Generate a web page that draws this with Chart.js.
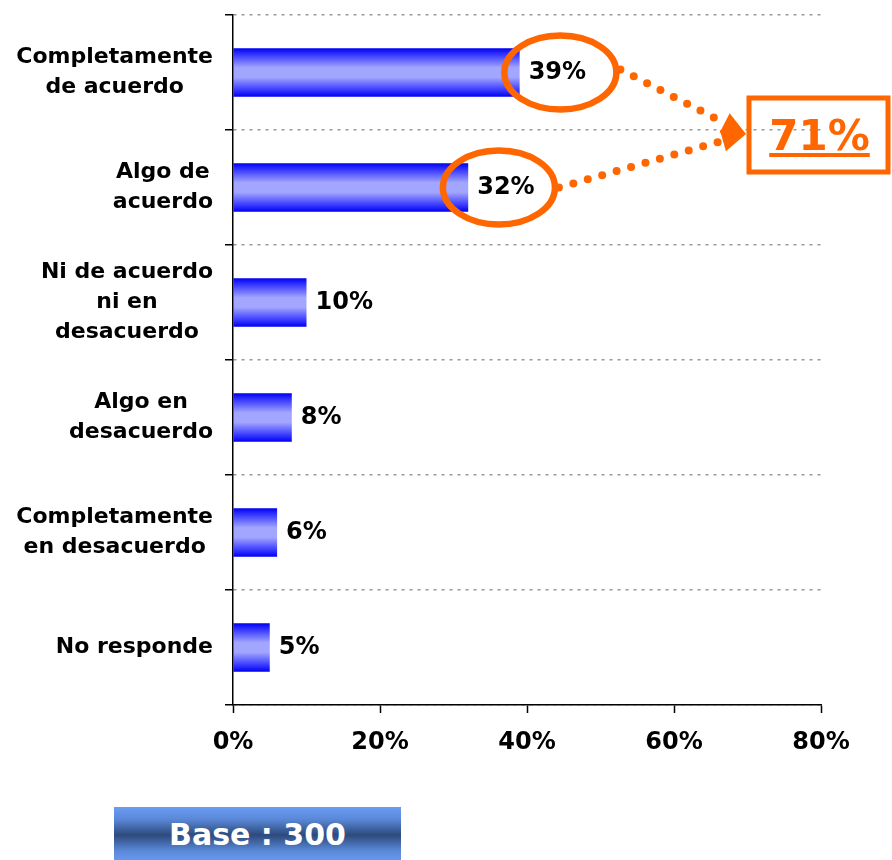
<!DOCTYPE html>
<html>
<head>
<meta charset="utf-8">
<script src="https://cdn.jsdelivr.net/npm/chart.js@4.4.0/dist/chart.umd.min.js"></script>
<style>
    html, body { margin: 0; padding: 0; background: #fff; }
    #wrap { position: relative; width: 892px; height: 860px; overflow: hidden; }
    #base {
        position: absolute; left: 114px; top: 807px; width: 287px; height: 56px;
        font: bold 30px/56px "DejaVu Sans", Verdana, sans-serif;
        text-align: center; color: #fff;
        background: linear-gradient(to bottom, #6b9cf5 0%, #5a88d8 22%, #2d4a7c 50%, #5a88d8 78%, #6b9cf5 100%);
    }
</style>
</head>
<body>
<div id="wrap">
    <canvas id="chart" width="892" height="860"></canvas>
    <div id="base">Base : 300</div>
</div>
<script>
    "use strict";

    // Data
    var categories = [
        ["Completamente", "de acuerdo"],
        ["Algo de", "acuerdo"],
        ["Ni de acuerdo", "ni en", "desacuerdo"],
        ["Algo en", "desacuerdo"],
        ["Completamente", "en desacuerdo"],
        ["No responde"]
    ];
    var values = [39, 32, 10, 8, 6, 5];
    var xTicks = [0, 20, 40, 60, 80];
    var highlighted = [0, 1]; // circled bars, summed in the orange box

    var FONT = '"DejaVu Sans", Verdana, sans-serif';
    var ORANGE = '#ff6600';
    var BAR_PCT = 0.42;
    var LINE_H = 30;

    // Bar fill: dark blue edges, light centre
    function barFill(context) {
        var chart = context.chart;
        var ys = chart.scales.y;
        if (!chart.chartArea || !ys) return '#0000ff';
        var pitch = Math.abs(ys.getPixelForValue(1) - ys.getPixelForValue(0));
        var half = pitch * BAR_PCT / 2;
        var cy = ys.getPixelForValue(context.dataIndex);
        var g = chart.ctx.createLinearGradient(0, cy - half, 0, cy + half);
        g.addColorStop(0, '#0000f0');
        g.addColorStop(0.1, '#2a2aff');
        g.addColorStop(0.4, '#a2a6ff');
        g.addColorStop(0.6, '#a2a6ff');
        g.addColorStop(0.9, '#2a2aff');
        g.addColorStop(1, '#0000f0');
        return g;
    }

    function dotted(ctx, x1, y1, x2, y2) {
        ctx.save();
        ctx.strokeStyle = ORANGE;
        ctx.lineWidth = 8;
        ctx.lineCap = 'round';
        ctx.setLineDash([0, 15]);
        ctx.beginPath();
        ctx.moveTo(x1, y1);
        ctx.lineTo(x2, y2);
        ctx.stroke();
        ctx.restore();
    }

    function arrowHead(ctx, fromX, fromY, tipX, tipY) {
        var dx = tipX - fromX, dy = tipY - fromY;
        var len = Math.sqrt(dx * dx + dy * dy);
        dx /= len; dy /= len;
        var bx = tipX - dx * 24, by = tipY - dy * 24;
        ctx.beginPath();
        ctx.moveTo(tipX, tipY);
        ctx.lineTo(bx - dy * 11, by + dx * 11);
        ctx.lineTo(bx + dy * 11, by - dx * 11);
        ctx.closePath();
        ctx.fill();
    }

    // Labels and annotations
    var customDraw = {
        id: 'customDraw',
        afterDatasetsDraw: function (chart) {
            var ctx = chart.ctx;
            var area = chart.chartArea;
            var ys = chart.scales.y;
            var bars = chart.getDatasetMeta(0).data;

            ctx.save();
            ctx.font = 'bold 22px ' + FONT;
            ctx.fillStyle = '#000';
            ctx.textBaseline = 'middle';

            // category labels: block right aligned, lines centred
            ctx.textAlign = 'center';
            categories.forEach(function (lines, i) {
                var cy = ys.getPixelForValue(i);
                var w = Math.max.apply(null, lines.map(function (l) { return ctx.measureText(l).width; }));
                var cx = area.left - 20 - w / 2;
                lines.forEach(function (l, j) {
                    ctx.fillText(l, cx, cy + (j - (lines.length - 1) / 2) * LINE_H);
                });
            });

            // value labels
            var centres = [];
            ctx.font = 'bold 24px ' + FONT;
            ctx.textAlign = 'left';
            bars.forEach(function (bar, i) {
                var txt = values[i] + '%';
                var x = bar.x + 9;
                ctx.fillText(txt, x, bar.y);
                centres.push({ x: x + ctx.measureText(txt).width / 2, y: bar.y });
            });

            // circles round highlighted values
            var rx = 56, ry = 37;
            var shift = [3, -7];
            ctx.strokeStyle = ORANGE;
            ctx.lineWidth = 6.5;
            highlighted.forEach(function (i, k) {
                ctx.beginPath();
                ctx.ellipse(centres[i].x + shift[k], centres[i].y, rx, ry, 0, 0, Math.PI * 2);
                ctx.stroke();
            });

            // total box
            var total = highlighted.reduce(function (s, i) { return s + values[i]; }, 0);
            var midY = (bars[highlighted[0]].y + bars[highlighted[1]].y) / 2 + 5;
            var boxL = area.right - 72, boxW = 139, boxH = 74;
            ctx.lineWidth = 5;
            ctx.strokeRect(boxL, midY - boxH / 2, boxW, boxH);

            // dotted links with arrow heads
            var tipX = boxL - 3, tipY = midY - 1;
            ctx.fillStyle = ORANGE;
            highlighted.forEach(function (i, k) {
                var sx = centres[i].x + shift[k] + rx + 4, sy = centres[i].y - (k === 0 ? 3 : 0);
                var dx = tipX - sx, dy = tipY - sy;
                var len = Math.sqrt(dx * dx + dy * dy);
                dotted(ctx, sx, sy, tipX - dx / len * 22, tipY - dy / len * 22);
                arrowHead(ctx, sx, sy, tipX, tipY);
            });

            ctx.font = 'bold 42px ' + FONT;
            ctx.textAlign = 'center';
            ctx.textBaseline = 'alphabetic';
            var label = total + '%';
            var tcx = boxL + boxW / 2 + 1;
            var base = midY + 15;
            ctx.fillText(label, tcx, base);
            var tw = ctx.measureText(label).width;
            ctx.fillRect(tcx - tw / 2, base + 3, tw, 4);

            ctx.restore();
        }
    };

    var ctx1 = document.getElementById('chart').getContext('2d');
    var myChart1 = new Chart(ctx1, {
        type: 'bar',
        data: {
            labels: categories.map(function (l) { return l.join(' '); }),
            datasets: [{
                data: values,
                backgroundColor: barFill,
                borderWidth: 0,
                barPercentage: BAR_PCT,
                categoryPercentage: 1
            }]
        },
        options: {
            indexAxis: 'y',
            responsive: false,
            animation: false,
            layout: { padding: { top: 15, right: 71, bottom: 100, left: 0 } },
            plugins: {
                legend: { display: false },
                tooltip: { enabled: false }
            },
            scales: {
                x: {
                    min: 0,
                    max: 80,
                    afterBuildTicks: function (s) {
                        s.ticks = xTicks.map(function (v) { return { value: v }; });
                    },
                    afterFit: function (s) { s.height = 55; },
                    grid: { drawOnChartArea: false, tickLength: 8, tickColor: '#000', tickWidth: 1.5 },
                    border: { color: '#000', width: 1.5, z: 1 },
                    ticks: {
                        color: '#000',
                        padding: 15,
                        maxRotation: 0,
                        font: { family: FONT, size: 24, weight: 'bold' },
                        callback: function (v) { return v + '%'; }
                    }
                },
                y: {
                    afterFit: function (s) { s.width = 233; },
                    grid: { color: '#999', lineWidth: 1.5, tickLength: 8, tickColor: '#000', tickWidth: 1.5, tickBorderDash: [] },
                    border: { color: '#000', width: 1.5, dash: [3, 5], z: 1 },
                    ticks: { display: false }
                }
            }
        },
        plugins: [customDraw]
    });
</script>
</body>
</html>
